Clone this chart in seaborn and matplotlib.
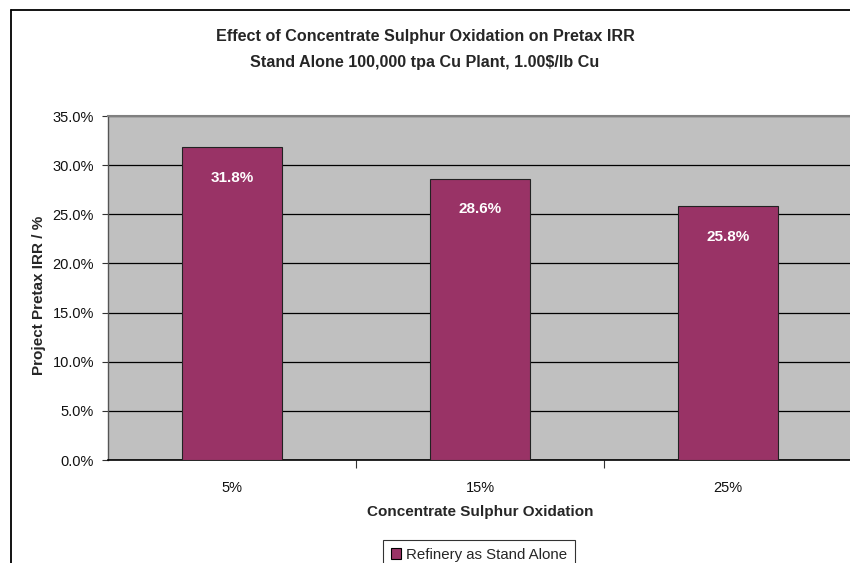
import matplotlib
matplotlib.use("Agg")
import matplotlib.pyplot as plt
import seaborn as sns
import pandas as pd
from matplotlib.lines import Line2D
from matplotlib.patches import Patch
from matplotlib.ticker import FuncFormatter, MultipleLocator

categories = ["5%", "15%", "25%"]
irr_values = [31.8, 28.6, 25.8]
series_name = "Refinery as Stand Alone"

sns.set_theme(style="white")
plt.rcParams["font.family"] = ["Liberation Sans", "DejaVu Sans"]

df = pd.DataFrame({"oxidation": categories, "irr": irr_values})

fig = plt.figure(figsize=(8.5, 5.63), dpi=100)
ax = fig.add_axes([108 / 850, 103 / 563, 744 / 850, 344 / 563])

bar_color = "#993366"
sns.barplot(data=df, x="oxidation", y="irr", color=bar_color, width=0.40,
            edgecolor="#222222", linewidth=0.8, saturation=1, ax=ax, zorder=3)

ax.set_facecolor("#C0C0C0")
ax.set_ylim(0, 35)
ax.set_xlim(-0.5, 2.5)
ax.yaxis.set_major_locator(MultipleLocator(5))
ax.yaxis.set_major_formatter(FuncFormatter(lambda v, _: f"{v:.1f}%"))
ax.grid(axis="y", color="black", linewidth=0.9, zorder=1)
ax.set_axisbelow(True)

ax.spines["right"].set_visible(False)
ax.spines["top"].set_color("#808080")
ax.spines["top"].set_linewidth(1.5)
ax.spines["left"].set_color("#555555")
ax.spines["left"].set_linewidth(1.0)
ax.spines["bottom"].set_color("black")
ax.spines["bottom"].set_linewidth(1.2)

ax.tick_params(axis="y", left=True, length=4, width=0.8, color="#333333",
               labelsize=10.5, pad=6, labelcolor="#111111")
ax.tick_params(axis="x", bottom=False, labelsize=10.5, pad=9, labelcolor="#111111")
# category boundary ticks under the x axis
ax.set_xticks([0.5, 1.5], minor=True)
ax.tick_params(axis="x", which="minor", bottom=True, length=6, width=0.8,
               color="#333333", direction="out")

ax.set_xlabel("Concentrate Sulphur Oxidation", fontsize=11, fontweight="bold",
              labelpad=7)
ax.set_ylabel("Project Pretax IRR / %", fontsize=11, fontweight="bold")
ax.yaxis.set_label_coords(-0.084, 0.48)

for i, v in enumerate(irr_values):
    ax.annotate(f"{v:.1f}%", xy=(i, v), xytext=(0, -22), textcoords="offset points",
                ha="center", va="center", color="white", fontsize=11,
                fontweight="bold", zorder=5)

title_font = dict(ha="center", va="center", fontsize=11.6, fontweight="bold")
fig.text(425 / 850, 1 - 37 / 563, "Effect of Concentrate Sulphur Oxidation on Pretax IRR",
         **title_font)
fig.text(425 / 850, 1 - 62 / 563, "Stand Alone 100,000 tpa Cu Plant, 1.00$/lb Cu",
         **title_font)

# chart area frame (left and top edges)
fig.add_artist(Line2D([11 / 850, 11 / 850], [0, 1 - 10 / 563], transform=fig.transFigure,
                      color="black", linewidth=1.3))
fig.add_artist(Line2D([11 / 850, 1], [1 - 10 / 563, 1 - 10 / 563], transform=fig.transFigure,
                      color="black", linewidth=1.3))

handle = Patch(facecolor=bar_color, edgecolor="black", linewidth=0.8)
leg = fig.legend([handle], [series_name], loc="lower left",
                 bbox_to_anchor=(383 / 850, -6 / 563), frameon=True, fancybox=False,
                 edgecolor="black", fontsize=10.8, handlelength=0.7, handleheight=0.7,
                 handletextpad=0.35, borderpad=0.5, borderaxespad=0)
leg.get_frame().set_linewidth(0.8)

fig.savefig("out.png", dpi=100, facecolor="white")
